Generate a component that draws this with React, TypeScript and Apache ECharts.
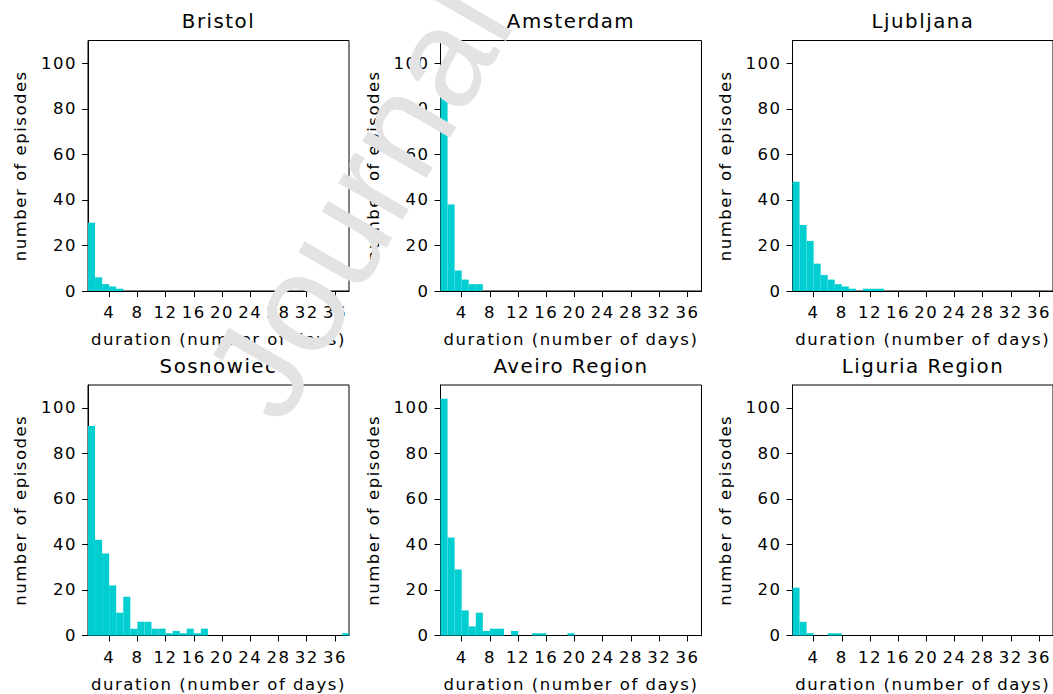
import React, { useEffect, useRef } from "react";
import * as echarts from "echarts";

// Histogram counts per city: index 0 is the bin [1, 2), index 1 is [2, 3), ...
const cities = ["Bristol", "Amsterdam", "Ljubljana", "Sosnowiec", "Aveiro Region", "Liguria Region"];

const bristol = [30, 6, 3, 2, 1];
const amsterdam = [87, 38, 9, 5, 3, 3];
const ljubljana = [48, 29, 22, 12, 7, 5, 3, 2, 1, 0, 1, 1, 1];
const sosnowiec = [
  92, 42, 36, 22, 10, 17, 3, 6, 6, 3, 3, 1, 2, 1, 3, 1, 3, 0, 0, 0,
  0, 0, 0, 0, 0, 0, 0, 0, 0, 0, 0, 0, 0, 0, 0, 0, 1,
];
const aveiro = [104, 43, 29, 11, 4, 10, 2, 3, 3, 0, 2, 0, 0, 1, 1, 0, 0, 0, 1];
const liguria = [21, 6, 1, 0, 0, 1, 1];

const counts = [bristol, amsterdam, ljubljana, sosnowiec, aveiro, liguria];

const binStart = 1;
const binWidth = 1;
const xMin = 1;
const xMax = 38;
const yMin = 0;
const yMax = 110;
const xTicks = [4, 8, 12, 16, 20, 24, 28, 32, 36];
const yTicks = [0, 20, 40, 60, 80, 100];

const xLabel = "duration (number of days)";
const yLabel = "number of episodes";
const watermark = "Journal";
const barColor = "#00CED1";
const FONT = "DejaVu Sans";
const FS = 16.5;

export default function App() {
  const ref = useRef<HTMLDivElement>(null);

  useEffect(() => {
    if (!ref.current) return;
    const chart = echarts.init(ref.current, null, { renderer: "svg" });

    const colLeft = [88, 440.5, 792.5];
    const rowTop = [40.5, 385];
    const w = 261;
    const h = 250.5;

    const grids: any[] = [];
    const xAxes: any[] = [];
    const yAxes: any[] = [];
    const series: any[] = [];
    const graphics: any[] = [];

    cities.forEach((name, i) => {
      const col = i % 3;
      const row = Math.floor(i / 3);
      const left = colLeft[col];
      const top = rowTop[row];
      grids.push({
        left,
        top,
        width: w,
        height: h,
        show: true,
        borderColor: "#000",
        borderWidth: 1,
        backgroundColor: "transparent",
      });
      xAxes.push({
        gridIndex: i,
        type: "value",
        min: xMin,
        max: xMax,
        name: xLabel,
        nameLocation: "middle",
        nameGap: 40,
        nameTextStyle: { fontFamily: FONT, fontSize: FS, color: "#000" },
        axisLine: { show: true, lineStyle: { color: "#000", width: 1 } },
        axisTick: { show: true, length: 6, customValues: xTicks, lineStyle: { color: "#000", width: 1 } },
        axisLabel: { customValues: xTicks, fontFamily: FONT, fontSize: FS, color: "#000", margin: 13 },
        splitLine: { show: false },
      });
      yAxes.push({
        gridIndex: i,
        type: "value",
        min: yMin,
        max: yMax,
        name: yLabel,
        nameLocation: "middle",
        nameGap: 59,
        nameTextStyle: { fontFamily: FONT, fontSize: FS, color: "#000" },
        axisLine: { show: true, lineStyle: { color: "#000", width: 1 } },
        axisTick: { show: true, length: 6, customValues: yTicks, lineStyle: { color: "#000", width: 1 } },
        axisLabel: { customValues: yTicks, fontFamily: FONT, fontSize: FS, color: "#000", margin: 11 },
        splitLine: { show: false },
      });
      const data = counts[i]
        .map((c, k) => [binStart + k * binWidth, binStart + (k + 1) * binWidth, c])
        .filter((d) => d[2] > 0);
      series.push({
        type: "custom",
        xAxisIndex: i,
        yAxisIndex: i,
        encode: { x: [0, 1], y: 2 },
        data,
        renderItem: (_params: any, api: any) => {
          const p0 = api.coord([api.value(0), api.value(2)]);
          const p1 = api.coord([api.value(1), 0]);
          return {
            type: "rect",
            shape: { x: p0[0], y: p0[1], width: p1[0] - p0[0], height: p1[1] - p0[1] },
            style: { fill: barColor },
          };
        },
      });
      graphics.push({
        type: "text",
        x: left + w / 2,
        y: top - 19,
        style: {
          text: name,
          fontFamily: FONT,
          fontSize: FS * 1.2,
          fill: "#000",
          textAlign: "center",
          textVerticalAlign: "middle",
        },
      });
    });

    // light diagonal watermark drawn over the upper-left panels
    graphics.push({
      type: "text",
      x: 358,
      y: 200,
      rotation: (60 * Math.PI) / 180,
      z: 100,
      zlevel: 1,
      style: {
        text: watermark,
        fontFamily: "Liberation Sans",
        fontSize: 140,
        fill: "#e3e3e3",
        textAlign: "center",
        textVerticalAlign: "middle",
      },
    });

    chart.setOption({
      animation: false,
      backgroundColor: "#fff",
      grid: grids,
      xAxis: xAxes,
      yAxis: yAxes,
      series,
      graphic: graphics,
    });

    return () => chart.dispose();
  }, []);

  return (
    <>
      <style>{"#chart svg text { letter-spacing: 1.5px; }"}</style>
      <div
        id="chart"
        ref={ref}
        style={{ position: "fixed", left: 0, top: 0, width: 1053, height: 694 }}
      />
    </>
  );
}
